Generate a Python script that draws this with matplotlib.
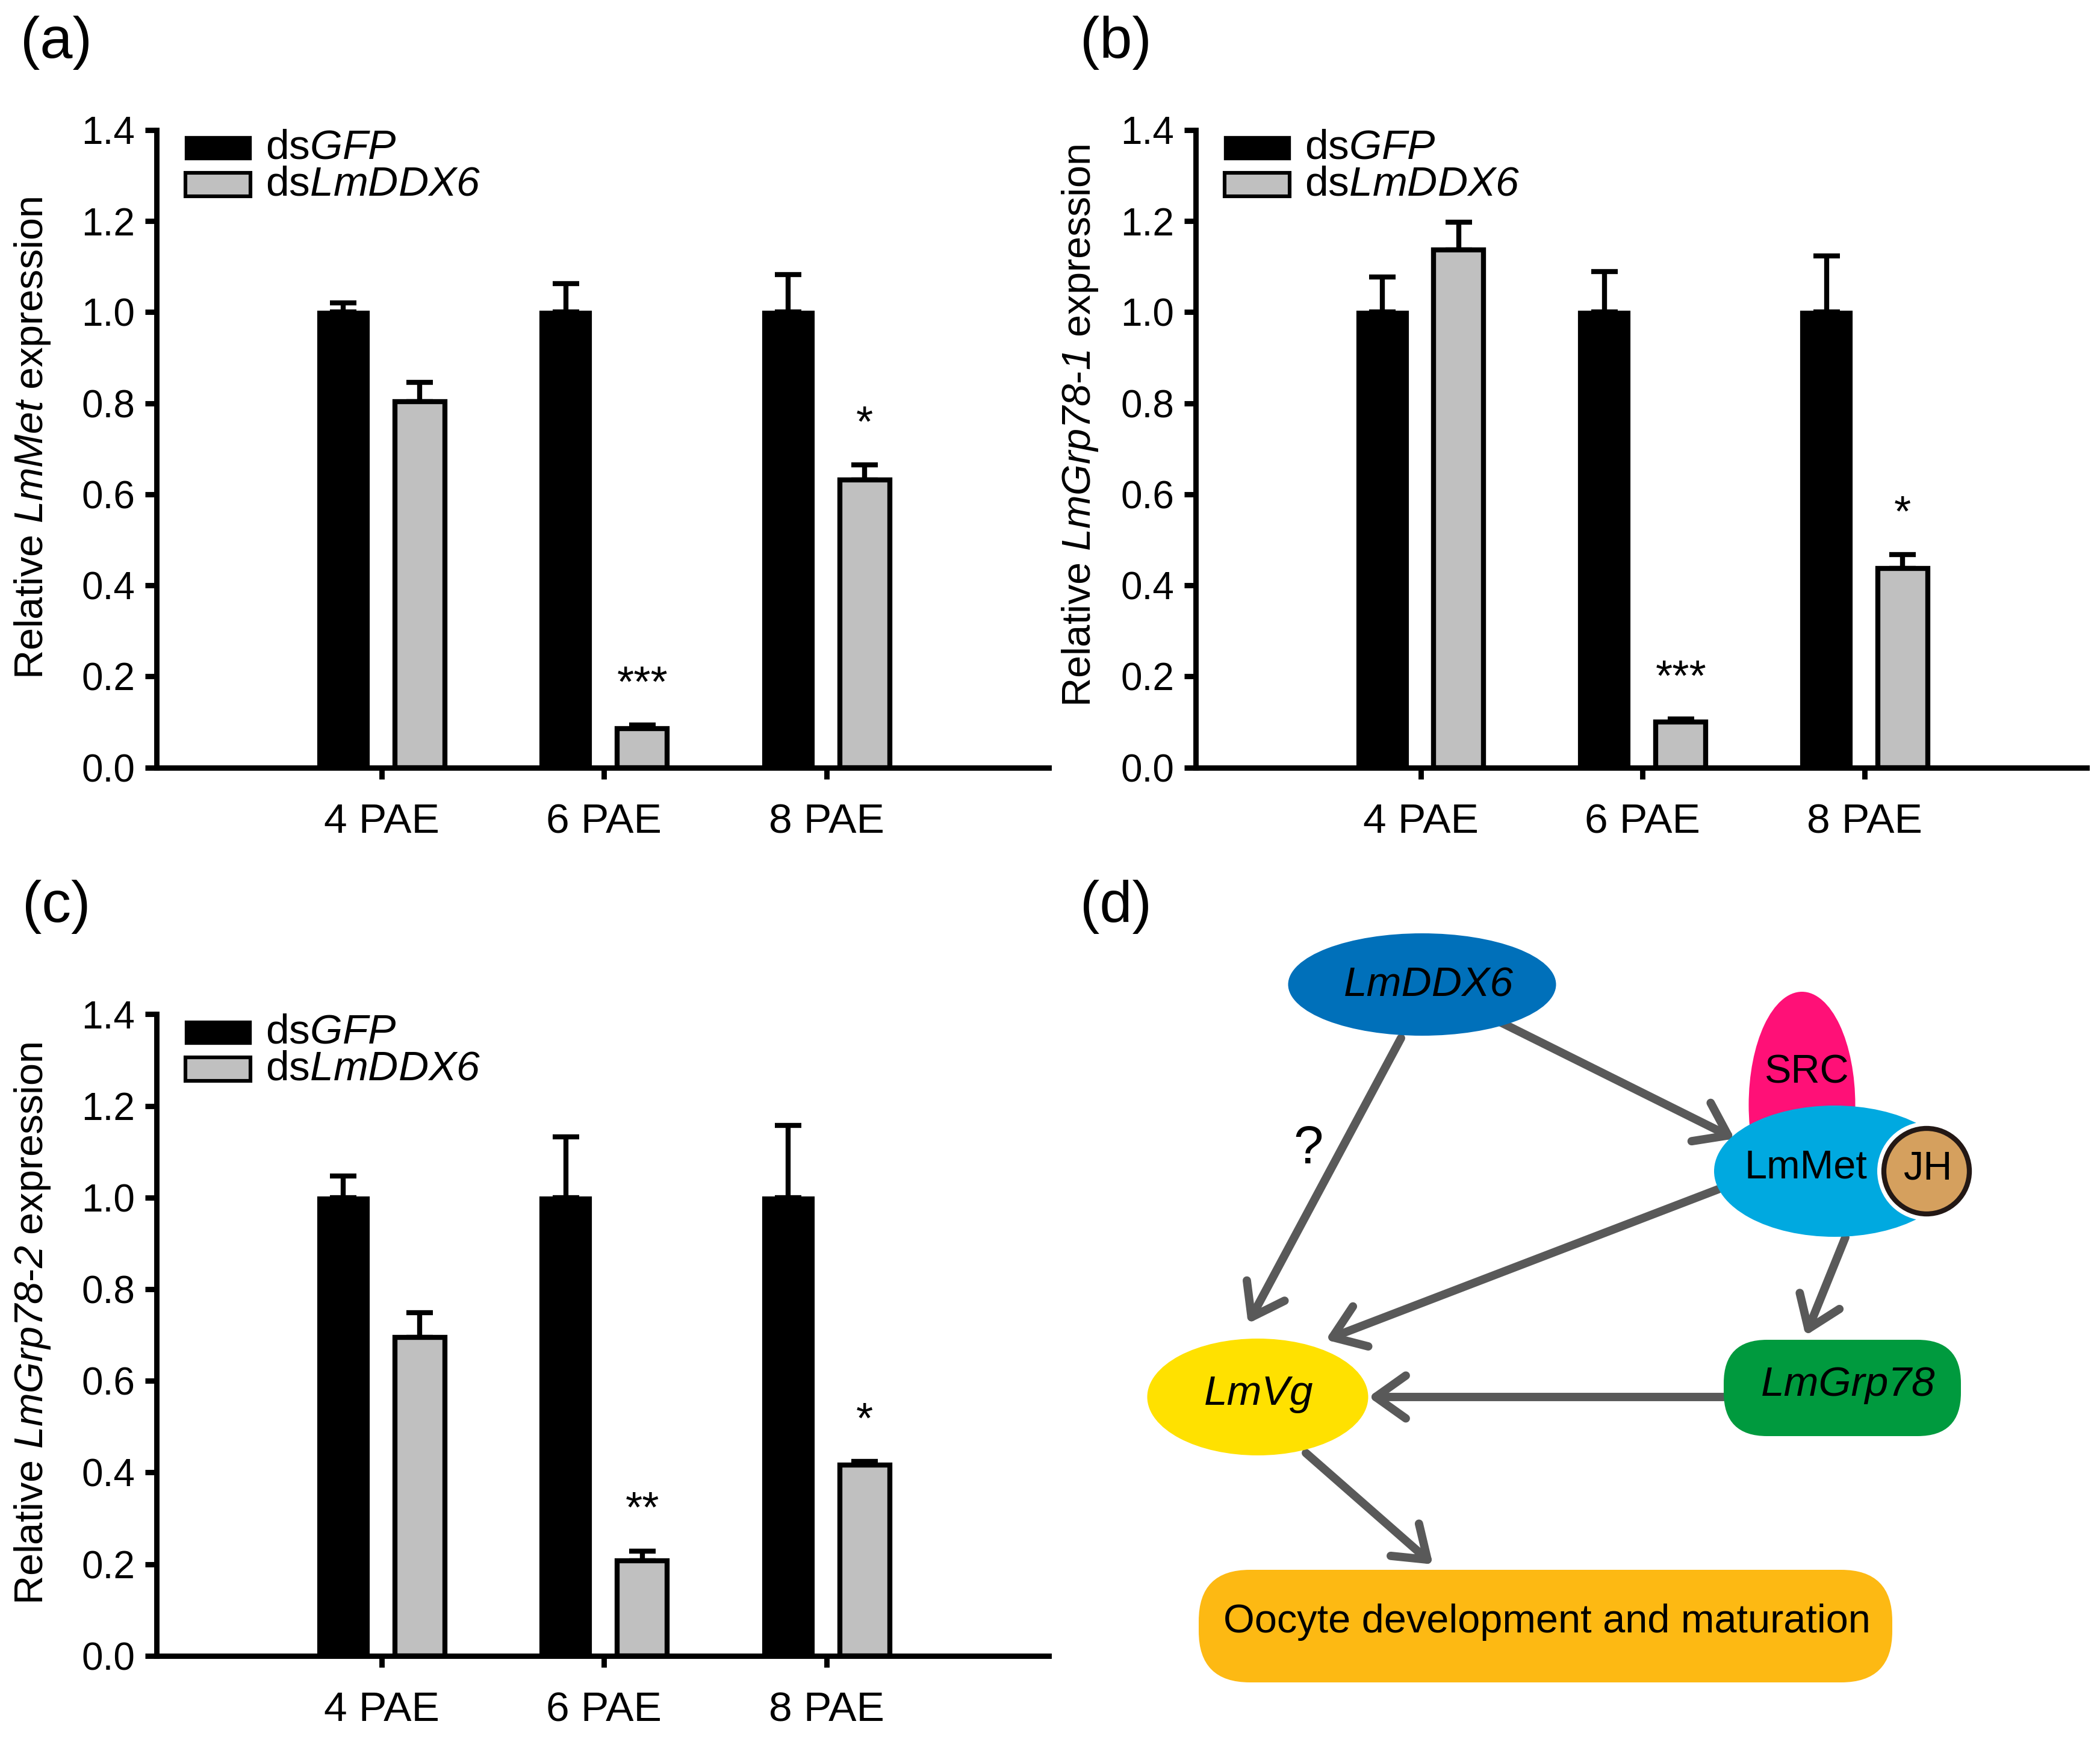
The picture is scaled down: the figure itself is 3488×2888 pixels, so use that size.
import numpy as np
import matplotlib
matplotlib.use("Agg")
import matplotlib.pyplot as plt
from matplotlib.patches import Ellipse, Circle, FancyBboxPatch, FancyArrowPatch, Rectangle

plt.rcParams['font.family'] = ['Liberation Sans', 'DejaVu Sans']
# \mathrm is used for the italic gene names (digits stay italic this way)
plt.rcParams['mathtext.fontset'] = 'custom'
plt.rcParams['mathtext.rm'] = 'Liberation Sans:italic'
plt.rcParams['mathtext.it'] = 'Liberation Sans:italic'

# data
groups = ['4 PAE', '6 PAE', '8 PAE']

met_gfp = [1.0, 1.0, 1.0]
met_gfp_err = [0.02, 0.063, 0.083]
met_ddx = [0.803, 0.086, 0.632]
met_ddx_err = [0.043, 0.007, 0.033]
met_sig = ['', '***', '*']

grp1_gfp = [1.0, 1.0, 1.0]
grp1_gfp_err = [0.077, 0.089, 0.123]
grp1_ddx = [1.137, 0.100, 0.437]
grp1_ddx_err = [0.061, 0.007, 0.031]
grp1_sig = ['', '***', '*']

grp2_gfp = [1.0, 1.0, 1.0]
grp2_gfp_err = [0.047, 0.133, 0.157]
grp2_ddx = [0.695, 0.208, 0.416]
grp2_ddx_err = [0.054, 0.021, 0.008]
grp2_sig = ['', '**', '*']

fig = plt.figure(figsize=(17.44, 14.44), dpi=200)


def bar_panel(rect, gfp, gfp_err, ddx, ddx_err, sig, ylabel, ylab_x, ylab_y):
    ax = fig.add_axes(rect)
    x = np.arange(len(groups))
    w = 0.225
    off = 0.172
    zeros = np.zeros(len(groups))
    ax.bar(x - off, gfp, w, color='black', edgecolor='black', linewidth=1.5, zorder=2)
    ax.bar(x + off, ddx, w, color='#c0c0c0', edgecolor='black', linewidth=3, zorder=2)
    ax.errorbar(x - off, gfp, yerr=[zeros, gfp_err], fmt='none', ecolor='black',
                elinewidth=3, capsize=8, capthick=3, zorder=1)
    ax.errorbar(x + off, ddx, yerr=[zeros, ddx_err], fmt='none', ecolor='black',
                elinewidth=3, capsize=8, capthick=3, zorder=1)
    for i in range(len(groups)):
        if sig[i]:
            ax.text(x[i] + off, ddx[i] + ddx_err[i] + 0.063, sig[i], ha='center',
                    va='baseline', fontsize=26)
    ax.set_xlim(-1.012, 3.0)
    ax.set_ylim(0, 1.4)
    ax.set_yticks(np.arange(0, 1.41, 0.2))
    ax.set_yticklabels(['%.1f' % v for v in np.arange(0, 1.41, 0.2)])
    ax.set_xticks(x)
    ax.set_xticklabels(groups)
    ax.tick_params(axis='y', labelsize=23, width=3.2, length=7, pad=6)
    ax.tick_params(axis='x', labelsize=25, width=3.2, length=7, pad=14)
    for s in ['top', 'right']:
        ax.spines[s].set_visible(False)
    for s in ['left', 'bottom']:
        ax.spines[s].set_linewidth(3.2)
    ax.set_ylabel(ylabel, fontsize=24)
    ax.yaxis.set_label_coords(ylab_x, ylab_y)
    # legend drawn as patches
    ax.add_patch(Rectangle((0.032, 0.954), 0.073, 0.035, transform=ax.transAxes,
                           facecolor='black', edgecolor='black', lw=1.2, clip_on=False))
    ax.add_patch(Rectangle((0.032, 0.896), 0.073, 0.037, transform=ax.transAxes,
                           facecolor='#c0c0c0', edgecolor='black', lw=2.2, clip_on=False))
    ax.text(0.122, 0.972, r'ds$\mathrm{GFP}$', transform=ax.transAxes, fontsize=25,
            va='center', ha='left')
    ax.text(0.122, 0.914, r'ds$\mathrm{LmDDX6}$', transform=ax.transAxes, fontsize=25,
            va='center', ha='left')
    return ax


bar_panel([0.0746, 0.5586, 0.4248, 0.3667], met_gfp, met_gfp_err, met_ddx, met_ddx_err,
          met_sig, r'Relative $\mathrm{LmMet}$ expression', -0.117, 0.517)
bar_panel([0.5695, 0.5586, 0.4241, 0.3667], grp1_gfp, grp1_gfp_err, grp1_ddx, grp1_ddx_err,
          grp1_sig, r'Relative $\mathrm{LmGrp78}$-$\mathrm{1}$ expression', -0.108, 0.536)
bar_panel([0.0746, 0.0478, 0.4248, 0.3690], grp2_gfp, grp2_gfp_err, grp2_ddx, grp2_ddx_err,
          grp2_sig, r'Relative $\mathrm{LmGrp78}$-$\mathrm{2}$ expression', -0.117, 0.518)

# panel (d): pathway diagram, axes in pixel coordinates
axd = fig.add_axes([1850 / 3488, 0, 1638 / 3488, 1388 / 2888])
axd.set_xlim(1850, 3488)
axd.set_ylim(2888, 1500)
axd.axis('off')

arrow_col = '#595959'


def arrow(p0, p1):
    a = FancyArrowPatch(p0, p1, arrowstyle='->,head_length=0.45,head_width=0.32',
                        mutation_scale=40, lw=5, color=arrow_col, zorder=1,
                        shrinkA=0, shrinkB=0)
    axd.add_patch(a)


axd.add_patch(Ellipse((2362, 1635), 445, 170, facecolor='#0070ba', edgecolor='none', zorder=2))
axd.text(2373, 1637, 'LmDDX6', style='italic', fontsize=25, ha='center', va='center', zorder=5)

axd.add_patch(Ellipse((2993, 1835), 177, 376, facecolor='#ff1077', edgecolor='none', zorder=2))
axd.text(3000, 1782, 'SRC', fontsize=24, ha='center', va='center', zorder=5)

axd.add_patch(Ellipse((3047, 1945), 400, 218, facecolor='#00a9e0', edgecolor='none', zorder=3))
axd.text(2999, 1940, 'LmMet', fontsize=24, ha='center', va='center', zorder=5)
axd.add_patch(Circle((3200, 1945), 82, facecolor='white', edgecolor='none', zorder=3))
axd.add_patch(Circle((3200, 1945), 71, facecolor='#d5a05e', edgecolor='#231815', lw=3, zorder=4))
axd.text(3202, 1942, 'JH', fontsize=24, ha='center', va='center', zorder=5)

axd.add_patch(Ellipse((2089, 2320), 367, 194, facecolor='#ffe100', edgecolor='none', zorder=2))
axd.text(2091, 2315, 'LmVg', style='italic', fontsize=25, ha='center', va='center', zorder=5)

axd.add_patch(FancyBboxPatch((2863, 2225), 394, 160, boxstyle='round,pad=0,rounding_size=72',
                             facecolor='#009a3e', edgecolor='none', zorder=2))
axd.text(3070, 2300, 'LmGrp78', style='italic', fontsize=25, ha='center', va='center', zorder=5)

axd.add_patch(FancyBboxPatch((1991, 2607), 1152, 187, boxstyle='round,pad=0,rounding_size=85',
                             facecolor='#fdb913', edgecolor='none', zorder=2))
axd.text(2569, 2694, 'Oocyte development and maturation', fontsize=24, ha='center',
         va='center', zorder=5)

arrow((2487, 1695), (2881, 1891))
arrow((2327, 1724), (2073, 2198))
arrow((2854, 1975), (2202, 2225))
arrow((3065, 2055), (2999, 2218))
arrow((2863, 2320), (2273, 2320))
arrow((2169, 2413), (2380, 2598))
axd.text(2173, 1909, '?', fontsize=32, ha='center', va='center', zorder=5)

# panel letters
for lab, px, py in [('(a)', 42, 32), ('(b)', 833, 32), ('(c)', 42, 677), ('(d)', 833, 677)]:
    fig.text(px / 1568, 1 - py / 1298, lab, fontsize=35, ha='center', va='center')

fig.savefig('out.png', dpi=200)
